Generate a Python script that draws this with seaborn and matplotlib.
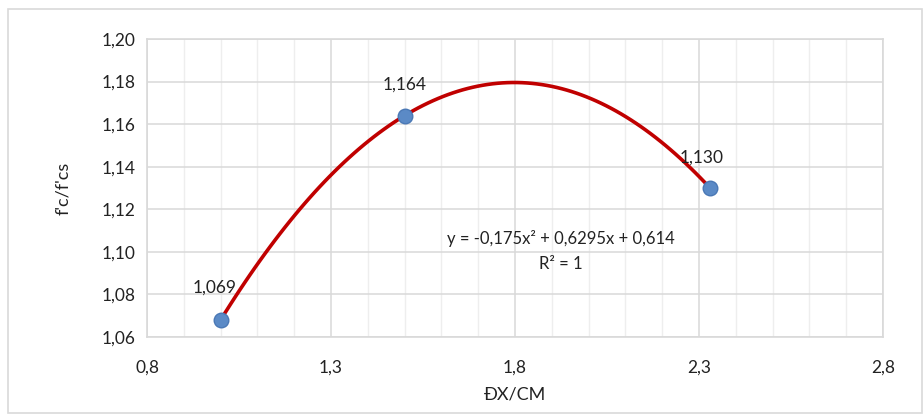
import matplotlib
matplotlib.use("Agg")
import matplotlib.pyplot as plt
import seaborn as sns
import numpy as np
import pandas as pd
from matplotlib.patches import Rectangle
from matplotlib.ticker import MultipleLocator, FixedLocator, FuncFormatter

# Data
dx_cm = [1.0, 1.5, 2.33]
ratio = [1.068, 1.164, 1.130]
point_labels = ["1,069", "1,164", "1,130"]
x_ticks = [0.8, 1.3, 1.8, 2.3, 2.8]
y_ticks = [1.06, 1.08, 1.10, 1.12, 1.14, 1.16, 1.18, 1.20]
equation_text = "y = -0,175x² + 0,6295x + 0,614"
r2_text = "R² = 1"
x_label = "ĐX/CM"
y_label = "f'c/f'cs"

df = pd.DataFrame({"x": dx_cm, "y": ratio})

sns.set_theme(style="white")
plt.rcParams["font.family"] = ["Lato", "DejaVu Sans"]

fig = plt.figure(figsize=(9.23, 4.15), dpi=100)
ax = fig.add_axes([147/923, 78/415, 736/923, 298/415])

# outer chart frame
fig.patches.append(Rectangle((8/923, 2/415), 914/923, 404/415, transform=fig.transFigure,
                             fill=False, edgecolor="#d9d9d9", linewidth=1.2, zorder=0))

# trend line (quadratic fit)
sns.regplot(data=df, x="x", y="y", order=2, ci=None, scatter=False, truncate=True,
            line_kws={"color": "#c00000", "linewidth": 2.6}, ax=ax)
# points
sns.scatterplot(data=df, x="x", y="y", s=110, color="#5b8ac6", edgecolor="#4a78b5",
                linewidth=1, zorder=3, ax=ax)

ax.set_xlim(0.8, 2.8)
ax.set_ylim(1.06, 1.20)
ax.xaxis.set_major_locator(FixedLocator(x_ticks))
ax.xaxis.set_minor_locator(MultipleLocator(0.1))
ax.yaxis.set_major_locator(FixedLocator(y_ticks))
ax.grid(which="major", color="#d9d9d9", linewidth=1.1)
ax.grid(which="minor", axis="x", color="#eeeeee", linewidth=1.0)
ax.set_axisbelow(True)

ax.xaxis.set_major_formatter(FuncFormatter(lambda v, p: f"{v:.1f}".replace(".", ",")))
ax.yaxis.set_major_formatter(FuncFormatter(lambda v, p: f"{v:.2f}".replace(".", ",")))

for s in ax.spines.values():
    s.set_color("#d9d9d9")
    s.set_linewidth(1.2)

ax.tick_params(axis="both", which="both", length=0, labelsize=12.5, colors="#222222")
ax.tick_params(axis="x", pad=16)
ax.tick_params(axis="y", pad=8)

offsets = [(-4, 23), (0, 22), (-6, 22)]
for xv, yv, lab, (dxp, dyp) in zip(dx_cm, ratio, point_labels, offsets):
    ax.annotate(lab, (xv, yv), xytext=(dxp, dyp), textcoords="offset points",
                ha="center", va="center", fontsize=12.5, color="#222222")

ax.text(561/923, (415-238)/415, equation_text, transform=fig.transFigure,
        ha="center", va="center", fontsize=12, color="#222222")
ax.text(561/923, (415-264)/415, r2_text, transform=fig.transFigure,
        ha="center", va="center", fontsize=12, color="#222222")

ax.set_xlabel(x_label, fontsize=13, color="#222222", labelpad=8)
ax.set_ylabel(y_label, fontsize=13, color="#222222", labelpad=22)

fig.savefig("out.png", dpi=100)
